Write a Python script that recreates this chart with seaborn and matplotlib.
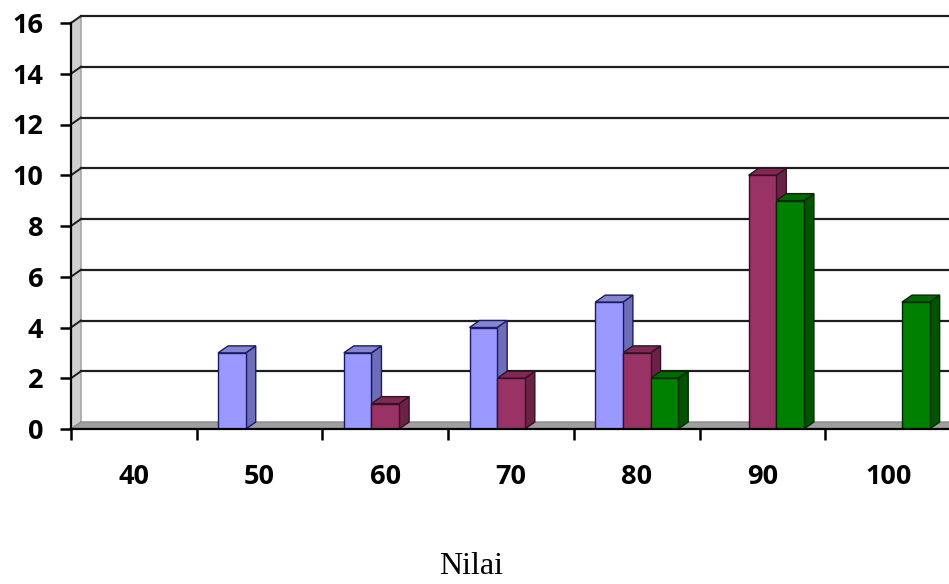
import matplotlib
matplotlib.use("Agg")
import matplotlib.pyplot as plt
from matplotlib.patches import Polygon
import seaborn as sns
import pandas as pd
import numpy as np

# Score categories and the frequency of each of the three series
categories = ["40", "50", "60", "70", "80", "90", "100"]
series_names = ["A", "B", "C"]
series_a = [0, 3, 3, 4, 5, 0, 0]
series_b = [0, 0, 1, 2, 3, 10, 0]
series_c = [0, 0, 0, 0, 2, 9, 5]
y_ticks = [0, 2, 4, 6, 8, 10, 12, 14, 16]
x_title = "Nilai"

front_colors = ["#9999FF", "#993366", "#008000"]
side_colors = ["#6E6EB8", "#6A2346", "#005400"]
top_colors = ["#8585D0", "#7E2A55", "#006A00"]
edge_colors = ["#1A1A66", "#3A0F22", "#002A00"]

rows = []
for name, vals in zip(series_names, [series_a, series_b, series_c]):
    for cat, v in zip(categories, vals):
        if v > 0:
            rows.append({"Nilai": cat, "Seri": name, "Jumlah": v})
df = pd.DataFrame(rows)

W, H = 949, 584
fig = plt.figure(figsize=(W / 100, H / 100), dpi=100)
x0_px, y0_px, ytop_px = 71, 429, 23
right_px = 71 + 880
ax = fig.add_axes([x0_px / W, (H - y0_px) / H, (right_px - x0_px) / W, (y0_px - ytop_px) / H])

sns.barplot(data=df, x="Nilai", y="Jumlah", hue="Seri", order=categories,
            hue_order=series_names, palette=front_colors, saturation=1, width=0.66, gap=0,
            ax=ax, legend=False, zorder=5)

xmin, xmax = -0.5, 6.5
ymax = 16
ax.set_xlim(xmin, xmax)
ax.set_ylim(0, ymax)

# depth offsets for the 3D look, converted from pixels to data units
dx = 10 / (880 / 7)
dy = 7 / ((y0_px - ytop_px) / ymax)

# back wall, side wall and floor
ax.add_patch(Polygon([(xmin + dx, dy), (xmax + 1, dy), (xmax + 1, ymax + dy), (xmin + dx, ymax + dy)],
                     closed=True, facecolor="white", edgecolor="none", zorder=0, clip_on=False))
ax.add_patch(Polygon([(xmin, 0), (xmin + dx, dy), (xmin + dx, ymax + dy), (xmin, ymax)],
                     closed=True, facecolor="#CFCFCF", edgecolor="#9A9A9A", lw=1, zorder=1, clip_on=False))
ax.add_patch(Polygon([(xmin, 0), (xmin + dx, dy), (xmax + 1, dy), (xmax + 1, 0)],
                     closed=True, facecolor="#9E9E9E", edgecolor="#8A8A8A", lw=1, zorder=1, clip_on=False))

# grid lines on the back wall and across the side wall
for t in y_ticks[1:]:
    ax.plot([xmin + dx, xmax + 1], [t + dy, t + dy], color="#1E1E1E", lw=1.6, zorder=2, clip_on=False)
    ax.plot([xmin, xmin + dx], [t, t + dy], color="#1E1E1E", lw=1.4, zorder=2, clip_on=False)

# side and top faces for every bar
for i, container in enumerate(ax.containers):
    for rect in container:
        h = rect.get_height()
        if not np.isfinite(h) or h <= 0:
            continue
        xl = rect.get_x()
        xr = xl + rect.get_width()
        rect.set_edgecolor(edge_colors[i])
        rect.set_linewidth(1.0)
        side = Polygon([(xr, 0), (xr + dx, dy), (xr + dx, h + dy), (xr, h)], closed=True,
                       facecolor=side_colors[i], edgecolor=edge_colors[i], lw=1.0, zorder=4, clip_on=False)
        top = Polygon([(xl, h), (xl + dx, h + dy), (xr + dx, h + dy), (xr, h)], closed=True,
                      facecolor=top_colors[i], edgecolor=edge_colors[i], lw=1.0, zorder=4, clip_on=False)
        ax.add_patch(side)
        ax.add_patch(top)

for s in ["top", "right"]:
    ax.spines[s].set_visible(False)
ax.spines["left"].set_color("black")
ax.spines["left"].set_linewidth(1.6)
ax.spines["left"].set_zorder(6)
ax.spines["bottom"].set_color("black")
ax.spines["bottom"].set_linewidth(1.6)
ax.spines["bottom"].set_zorder(6)

ax.set_yticks(y_ticks)
ax.set_yticklabels([str(t) for t in y_ticks])
ax.set_xticks(range(len(categories)))
ax.set_xticklabels(categories)
ax.set_xticks(np.arange(xmin, xmax + 0.01, 1), minor=True)
ax.tick_params(axis="x", which="major", length=0, pad=25)
ax.tick_params(axis="x", which="minor", length=8, width=1.8, direction="out", color="black")
ax.tick_params(axis="y", length=8, width=1.8, direction="out", color="black", pad=12)
for lab in ax.get_xticklabels() + ax.get_yticklabels():
    lab.set_fontfamily("Open Sans")
    lab.set_fontweight("bold")
    lab.set_fontsize(19.5)
ax.set_xlabel("")
ax.set_ylabel("")
ax.grid(False)
ax.set_facecolor("none")

fig.text(471 / W, 1 - 566 / H, x_title, ha="center", va="center",
         fontfamily="Liberation Serif", fontsize=23)

fig.savefig("out.png", dpi=100)
